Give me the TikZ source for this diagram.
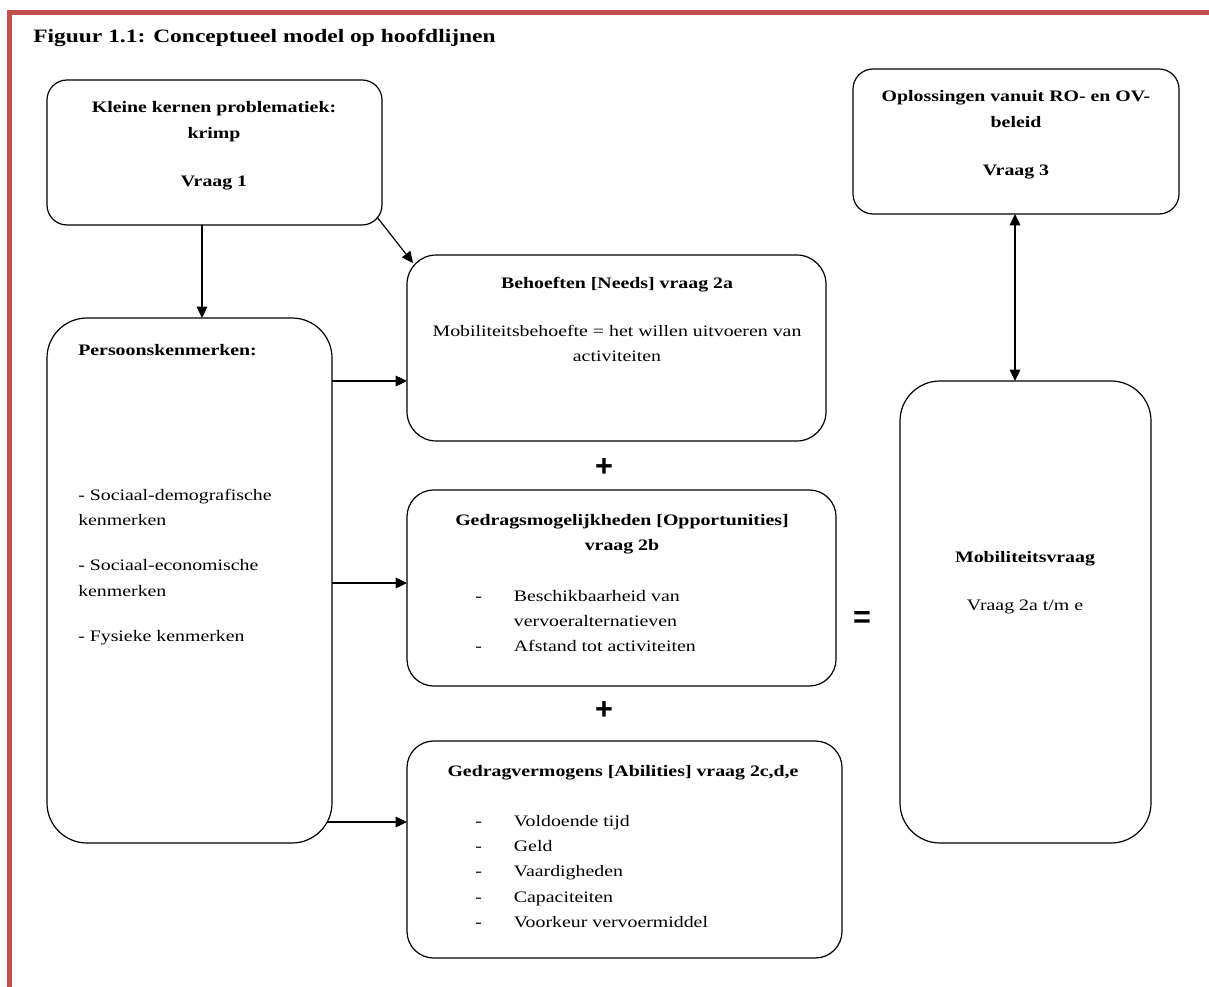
\documentclass[tikz,border=0pt]{standalone}
\usepackage{fontspec}
\setmainfont{Liberation Serif}[FakeStretch=1.24]
\newfontfamily\signfont{Liberation Sans}
\usetikzlibrary{arrows.meta, calc}
\definecolor{framered}{RGB}{192,80,77}
\tikzset{
  box/.style={
    draw,
    line width=0.9pt,
    rounded corners=#1,
    inner sep=0pt,
    outer sep=0pt
  },
  box/.default=15pt,
  arr/.style={
    -{Triangle[length=8.5pt,width=8pt]},
    line width=0.9pt
  },
  dubbel/.style={
    {Triangle[length=8.5pt,width=8pt]}-{Triangle[length=8.5pt,width=8pt]},
    line width=0.9pt
  },
  txt/.style={
    inner sep=0pt,
    font=\fontsize{12}{19}\selectfont
  },
  kop/.style={
    inner sep=0pt,
    font=\fontsize{12}{19}\selectfont\bfseries
  },
  sign/.style={
    inner sep=0pt,
    font=\signfont\bfseries\fontsize{23}{23}\selectfont
  }
}

\begin{document}
\begin{tikzpicture}[x=0.75pt, y=-0.75pt]
    \useasboundingbox (0,0) rectangle (1209,987);

    % rode kader (alleen boven en links zichtbaar)
    \draw[framered, line width=3.75pt] (9.5,987) -- (9.5,12.5) -- (1209,12.5);
    \node[inner sep=0pt, font=\fontsize{14.2}{17}\selectfont\bfseries, anchor=base west] (titel) at (33,43)
      {Figuur 1.1: Conceptueel model op hoofdlijnen};

    % blokken
    \node[box, minimum width=251.25pt, minimum height=108.75pt] (kern) at (214.5,152.5) {};
    \node[box, minimum width=244.5pt, minimum height=108.75pt] (oplos) at (1016,141.5) {};
    \node[box=22pt, minimum width=314.25pt, minimum height=139.5pt] (needs) at (616.5,348) {};
    \node[box=30pt, minimum width=213.75pt, minimum height=393.75pt] (persoon) at (189.5,580.5) {};
    \node[box=20pt, minimum width=321.75pt, minimum height=147pt] (opport) at (621.5,588) {};
    \node[box=20pt, minimum width=326.25pt, minimum height=162.75pt] (abil) at (624.5,849.5) {};
    \node[box=30pt, minimum width=188.25pt, minimum height=346.5pt] (mobvr) at (1025.5,612) {};

    % teksten in de blokken
    \node[kop, anchor=base] (kern-t) at (214,113)
      {\begin{tabular}[t]{@{}c@{}}Kleine kernen problematiek:\\krimp\\[17pt]Vraag 1\end{tabular}};
    \node[kop, anchor=base] (oplos-t) at (1016,102)
      {\begin{tabular}[t]{@{}c@{}}Oplossingen vanuit RO- en OV-\\beleid\\[17pt]Vraag 3\end{tabular}};
    \node[kop, anchor=base] (needs-t) at (617,289) {Behoeften [Needs] vraag 2a};
    \node[txt, anchor=base] (needs-s) at (617,336)
      {\begin{tabular}[t]{@{}c@{}}Mobiliteitsbehoefte = het willen uitvoeren van\\activiteiten\end{tabular}};
    \node[kop, anchor=base west] (persoon-t) at (78,355) {Persoonskenmerken:};
    \node[txt, anchor=base west] (persoon-s) at (78,500)
      {\begin{tabular}[t]{@{}l@{}}- Sociaal-demografische\\kenmerken\\[15pt]- Sociaal-economische\\kenmerken\\[15pt]- Fysieke kenmerken\end{tabular}};
    \node[kop, anchor=base] (opport-t) at (622,525)
      {\begin{tabular}[t]{@{}c@{}}Gedragsmogelijkheden [Opportunities]\\vraag 2b\end{tabular}};
    \node[txt, anchor=base west] (opport-s) at (475,601)
      {\begin{tabular}[t]{@{}p{29pt}@{}l@{}}-&Beschikbaarheid van\\&vervoeralternatieven\\-&Afstand tot activiteiten\end{tabular}};
    \node[kop, anchor=base] (abil-t) at (623,776) {Gedragvermogens [Abilities] vraag 2c,d,e};
    \node[txt, anchor=base west] (abil-s) at (475,826)
      {\begin{tabular}[t]{@{}p{29pt}@{}l@{}}-&Voldoende tijd\\-&Geld\\-&Vaardigheden\\-&Capaciteiten\\-&Voorkeur vervoermiddel\end{tabular}};
    \node[kop, anchor=base] (mobvr-t) at (1025,562) {Mobiliteitsvraag};
    \node[txt, anchor=base] (mobvr-s) at (1025,610) {Vraag 2a t/m e};

    % plus- en isteken
    \node[sign] (plus1) at (604,468) {+};
    \node[sign] (plus2) at (604,711) {+};
    \node[sign] (is) at (862,620) {=};

    % pijlen
    \coordinate (lijn1) at (202,0);
    \coordinate (lijn2) at (1015,0);
    \coordinate (rij1) at (0,381);
    \coordinate (rij2) at (0,583);
    \coordinate (rij3) at (0,822);
    \draw[arr] (kern.south -| lijn1) -- (persoon.north -| lijn1);
    \draw[arr] ($(kern.south east)+(-5,-8)$) -- ($(needs.north west)+(6,8)$);
    \draw[arr] (persoon.east |- rij1) -- (needs.west |- rij1);
    \draw[arr] (persoon.east |- rij2) -- (opport.west |- rij2);
    \draw[arr] ($(persoon.east |- rij3)+(-5,0)$) -- (abil.west |- rij3);
    \draw[dubbel] (oplos.south -| lijn2) -- (mobvr.north -| lijn2);
\end{tikzpicture}
\end{document}
